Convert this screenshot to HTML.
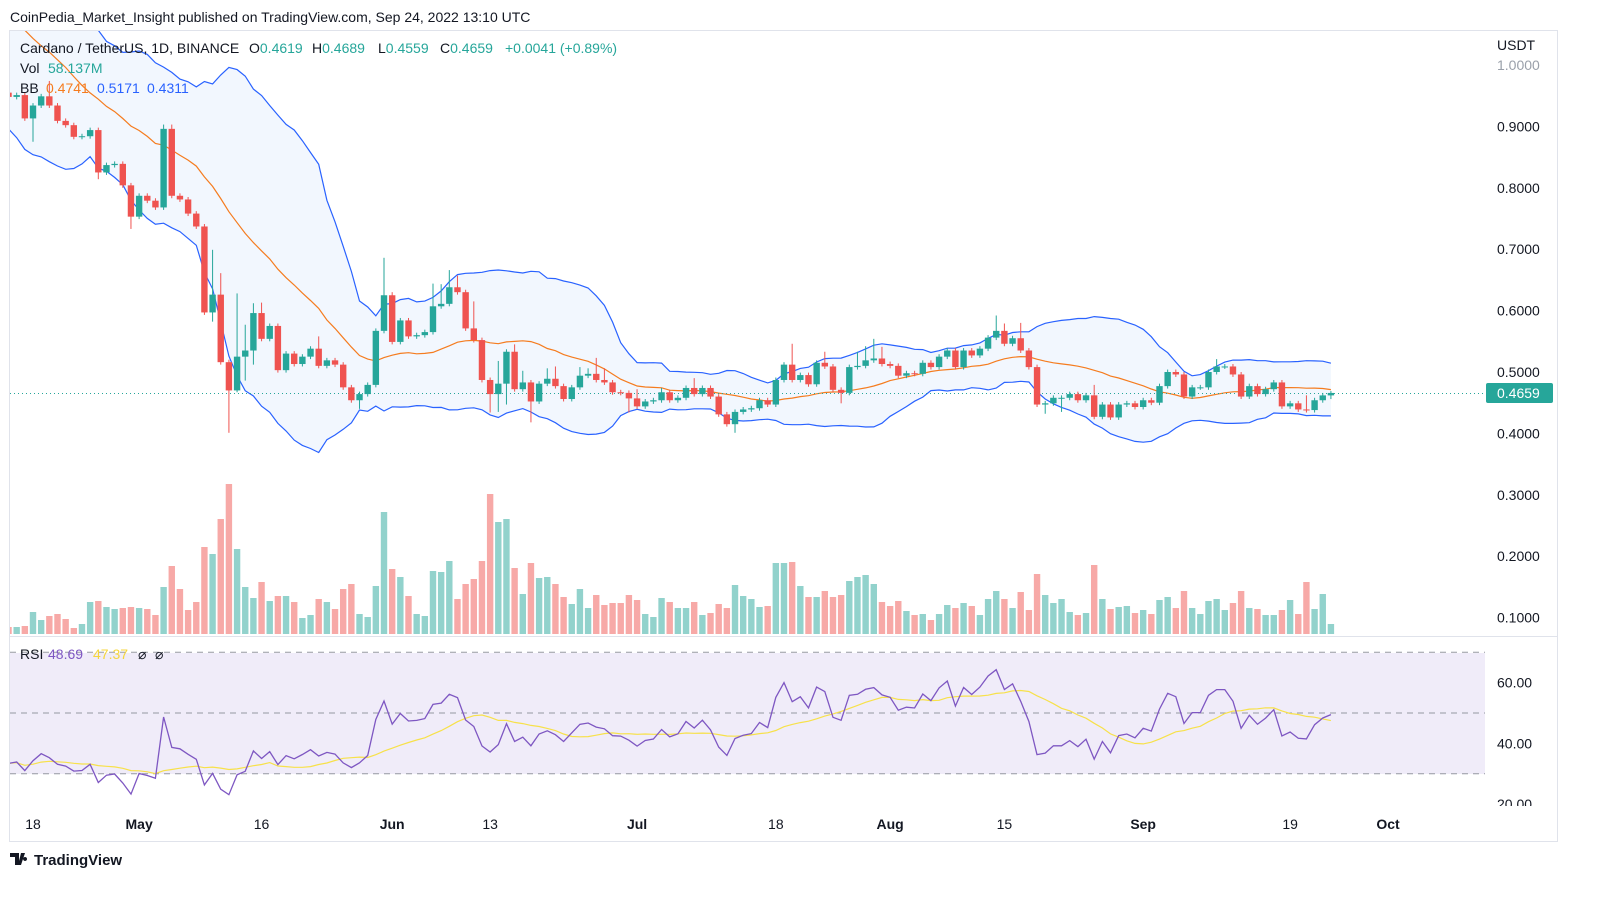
<!DOCTYPE html>
<html><head><meta charset="utf-8"><style>
body{margin:0;background:#fff;font-family:"Liberation Sans",sans-serif;}
svg text{font-family:"Liberation Sans",sans-serif;}
</style></head><body>
<svg id="chart" width="1600" height="895" viewBox="0 0 1600 895" xmlns="http://www.w3.org/2000/svg">
<defs>
<clipPath id="mainClip"><rect x="10" y="31" width="1475" height="604"/></clipPath>
<clipPath id="rsiClip"><rect x="10" y="638" width="1475" height="168"/></clipPath>
<clipPath id="axClip"><rect x="1486" y="638" width="110" height="168"/></clipPath>
</defs>
<text x="10" y="22" font-size="14" fill="#131722">CoinPedia_Market_Insight published on TradingView.com, Sep 24, 2022 13:10 UTC</text>
<rect x="9.5" y="30.5" width="1548" height="811" fill="none" stroke="#e0e3eb"/>
<line x1="9.5" y1="636.5" x2="1557" y2="636.5" stroke="#e0e3eb"/>
<rect x="10" y="653" width="1475" height="121" fill="#f0ecf9"/>
<g id="bbFill" clip-path="url(#mainClip)"></g>
<g id="volumes" clip-path="url(#mainClip)"></g>
<g id="bbLines" clip-path="url(#mainClip)"></g>
<line x1="10" y1="393.5" x2="1485" y2="393.5" stroke="#26a69a" stroke-dasharray="1,3"/>
<g id="candles" clip-path="url(#mainClip)"></g>
<g id="rsiGuides"></g>
<g id="rsiLines" clip-path="url(#rsiClip)"></g>
<g id="priceAxis"></g>
<g id="rsiAxis" clip-path="url(#axClip)"></g>
<g id="dateAxis"></g>
<text x="1497" y="50" font-size="14" fill="#131722">USDT</text>
<rect x="1486" y="383" width="67" height="20" rx="2" fill="#26a69a"/>
<text x="1497" y="398" font-size="14" fill="#fff">0.4659</text>
<g font-size="14">
<text y="53" fill="#131722"><tspan x="20">Cardano / TetherUS, 1D, BINANCE</tspan><tspan x="249">O</tspan><tspan fill="#26a69a">0.4619</tspan><tspan x="312">H</tspan><tspan fill="#26a69a">0.4689</tspan><tspan x="378">L</tspan><tspan fill="#26a69a">0.4559</tspan><tspan x="440">C</tspan><tspan fill="#26a69a">0.4659</tspan><tspan x="505" fill="#26a69a">+0.0041 (+0.89%)</tspan></text>
<text y="73" fill="#131722"><tspan x="20">Vol</tspan><tspan x="48" fill="#26a69a">58.137M</tspan></text>
<text y="93" fill="#131722"><tspan x="20">BB</tspan><tspan x="46" fill="#f57c1f">0.4741</tspan><tspan x="97" fill="#2962ff">0.5171</tspan><tspan x="147" fill="#2962ff">0.4311</tspan></text>
<text y="659" fill="#131722"><tspan x="20">RSI</tspan><tspan x="48" fill="#7e57c2">48.69</tspan><tspan x="93" fill="#f5d63d">47.37</tspan><tspan x="138">⌀</tspan><tspan x="155">⌀</tspan></text>
</g>
<g>
<path d="M10 853h9v12h-4v-8h-5z M21 853h4l-4 12h-3z M25 857a2 2 0 1 0 0.1 0z" fill="#131722"/>
<text x="34" y="865" font-size="15" font-weight="bold" fill="#131722">TradingView</text>
</g>
</svg>
<script>
const preCloses=[1.17,1.16,1.20,1.19,1.14,1.16,1.15,1.18,1.17,1.14,1.03,1.07,1.01,1.03,1.00,0.93,0.97,1.00,0.95];
const closes=[0.948,0.951,0.913,0.934,0.949,0.934,0.909,0.902,0.883,0.884,0.894,0.825,0.837,0.839,0.804,0.753,0.787,0.779,0.768,0.896,
0.787,0.781,0.758,0.737,0.597,0.626,0.516,0.470,0.525,0.535,0.596,0.554,0.575,0.503,0.530,0.513,0.525,0.538,0.510,0.519,
0.512,0.475,0.454,0.464,0.479,0.567,0.625,0.549,0.584,0.558,0.560,0.565,0.607,0.611,0.638,0.630,0.571,0.552,0.487,0.464,
0.481,0.533,0.472,0.483,0.452,0.481,0.489,0.477,0.456,0.475,0.494,0.497,0.487,0.483,0.467,0.466,0.457,0.444,0.452,0.454,
0.467,0.454,0.458,0.474,0.464,0.474,0.460,0.431,0.415,0.435,0.439,0.441,0.454,0.447,0.487,0.512,0.487,0.495,0.480,0.515,
0.509,0.471,0.466,0.508,0.510,0.519,0.522,0.513,0.510,0.494,0.498,0.497,0.515,0.508,0.525,0.535,0.508,0.535,0.527,0.538,
0.556,0.567,0.546,0.555,0.535,0.508,0.447,0.449,0.458,0.458,0.464,0.454,0.462,0.427,0.447,0.426,0.447,0.449,0.443,0.454,
0.450,0.477,0.500,0.496,0.460,0.475,0.475,0.500,0.509,0.509,0.496,0.460,0.477,0.464,0.472,0.483,0.444,0.449,0.439,0.438,
0.454,0.4619,0.4659];
const firstOpen=0.955;
const highIdx=[5,19,20,25,26,28,29,30,31,38,46,47,52,53,54,55,57,60,62,63,66,67,70,71,72,73,77,80,84,96,100,104,105,106,107,121,122,124,133,148,159,162];
const highVals=[0.974,0.903,0.903,0.699,0.661,0.628,0.577,0.612,0.613,0.558,0.686,0.630,0.644,0.643,0.666,0.657,0.615,0.518,0.545,0.502,0.506,0.509,0.508,0.506,0.523,0.506,0.472,0.474,0.490,0.546,0.533,0.533,0.542,0.554,0.541,0.592,0.579,0.580,0.479,0.521,0.462,0.4689];
const lowIdx=[3,11,15,25,27,28,29,30,43,59,60,61,64,76,89,102,127,129,162];
const lowVals=[0.875,0.814,0.733,0.582,0.401,0.467,0.486,0.512,0.440,0.434,0.435,0.447,0.418,0.434,0.401,0.449,0.432,0.435,0.4559];
const volumes=[7,7,8,22,14,18,20,15,6,10,32,33,27,25,26,27,26,25,19,47,68,45,24,32,87,80,115,150,
85,47,36,52,33,38,38,32,16,19,35,32,25,45,50,20,17,48,122,65,57,38,20,18,63,62,73,
35,50,55,73,140,112,115,66,40,71,56,57,50,37,30,45,26,39,29,31,31,39,34,20,17,36,
32,26,26,32,19,21,30,26,49,38,35,27,28,71,71,72,48,37,37,43,37,39,53,57,59,50,32,
28,33,23,19,20,14,20,29,26,31,28,19,35,43,35,26,42,24,60,39,31,35,22,19,21,69,
35,25,27,28,21,24,20,34,37,26,43,26,20,33,35,24,31,43,26,25,19,19,24,34,20,52,
25,40,10];
const priceTicks=[1.0,0.9,0.8,0.7,0.6,0.5,0.4,0.3,0.2,0.1];
const rsiTicks=[60,40,20];
const dateLabels=["18","May","16","Jun","13","Jul","18","Aug","15","Sep","19","Oct"];
const dateDays=[0,13,28,44,56,74,91,105,119,136,154,166];
const dateBold=[false,true,false,true,false,true,false,true,false,true,false,true];

const NS="http://www.w3.org/2000/svg";
const firstDay=-3;
const xDay=d=>33+d*8.163;
const xC=i=>xDay(i+firstDay);
const yP=p=>65+(1-p)*614;
const yR=r=>713-(r-50)*3.04;
const yV=v=>634-v;
function mk(tag,attrs,parent){const e=document.createElementNS(NS,tag);for(const k in attrs)e.setAttribute(k,attrs[k]);parent.appendChild(e);return e;}
const G=id=>document.getElementById(id);
const n=closes.length;
const opens=closes.map((c,i)=>i===0?firstOpen:closes[i-1]);

for(let i=0;i<n;i++){
  const up=closes[i]>=opens[i];
  const r=mk('rect',{x:xC(i)-3.2,y:yV(volumes[i]),width:6.4,height:volumes[i],fill:up?'#92d2cc':'#f7a9a7'},G('volumes'));
  
  
}
const all=preCloses.concat(closes);
const mid=[],up=[],lo=[];
for(let i=0;i<n;i++){
  const k=i+preCloses.length;const w=all.slice(k-19,k+1);
  const m=w.reduce((a,b)=>a+b,0)/20;const sd=Math.sqrt(w.reduce((a,b)=>a+(b-m)*(b-m),0)/20);
  mid.push(m);up.push(m+2*sd);lo.push(m-2*sd);
}
const pts=a=>a.map((v,i)=>xC(i).toFixed(1)+','+yP(v).toFixed(1));
const fill=mk('polygon',{points:pts(up).concat(pts(lo).reverse()).join(' '),fill:'#f2f7fe'},G('bbFill'));


const bu=mk('polyline',{points:pts(up).join(' '),fill:'none',stroke:'#2962ff','stroke-width':1.2},G('bbLines'));


const bl=mk('polyline',{points:pts(lo).join(' '),fill:'none',stroke:'#2962ff','stroke-width':1.2},G('bbLines'));


const bm=mk('polyline',{points:pts(mid).join(' '),fill:'none',stroke:'#f57c1f','stroke-width':1.2},G('bbLines'));



for(let i=0;i<n;i++){
  const o=opens[i],c=closes[i];const isUp=c>=o;const col=isUp?'#26a69a':'#ef5350';
  const hi=highIdx.indexOf(i)>=0?highVals[highIdx.indexOf(i)]:Math.max(o,c)+0.004;
  const lw=lowIdx.indexOf(i)>=0?lowVals[lowIdx.indexOf(i)]:Math.min(o,c)-0.004;
  const g=mk('g',{},G('candles'));
  
  
  mk('line',{x1:xC(i),x2:xC(i),y1:yP(hi),y2:yP(lw),stroke:col,'stroke-width':1},g);
  const t=yP(Math.max(o,c)),b=yP(Math.min(o,c));
  mk('rect',{x:xC(i)-3.2,y:t,width:6.4,height:Math.max(1,b-t),fill:col},g);
}
let ag=0,al=0;const rsi=[];
for(let k=1;k<all.length;k++){
  const d=all[k]-all[k-1];const g=Math.max(d,0),l=Math.max(-d,0);
  if(k<=14){ag+=g/14;al+=l/14;}else{ag=(ag*13+g)/14;al=(al*13+l)/14;}
  if(k>=preCloses.length) rsi.push(al===0?100:100-100/(1+ag/al));
}
const rsiMa=rsi.map((v,i)=>{const w=rsi.slice(Math.max(0,i-13),i+1);return w.reduce((a,b)=>a+b,0)/w.length;});
[70,50,30].forEach(v=>{
  const l=mk('line',{x1:10,x2:1485,y1:yR(v),y2:yR(v),stroke:'#9598a1','stroke-dasharray':'6,5','stroke-width':1},G('rsiGuides'));
  
  
});
const rp=a=>a.map((v,i)=>xC(i).toFixed(1)+','+yR(v).toFixed(1)).join(' ');
const rm=mk('polyline',{points:rp(rsiMa),fill:'none',stroke:'#f7e14a','stroke-width':1.2},G('rsiLines'));


const rl=mk('polyline',{points:rp(rsi),fill:'none',stroke:'#7e57c2','stroke-width':1.3},G('rsiLines'));


priceTicks.forEach(p=>{
  const t=mk('text',{x:1497,y:yP(p)+5,'font-size':14,fill:p===1.0?'#9aa0aa':'#131722'},G('priceAxis'));
  t.textContent=p.toFixed(4);
  
  
});
rsiTicks.forEach(r=>{
  const t=mk('text',{x:1497,y:yR(r)+5,'font-size':14,fill:'#131722'},G('rsiAxis'));
  t.textContent=r.toFixed(2);
  
  
});
dateLabels.forEach((s,i)=>{
  const t=mk('text',{x:xDay(dateDays[i]),y:829,'font-size':14,'text-anchor':'middle',fill:'#131722','font-weight':dateBold[i]?'bold':'normal'},G('dateAxis'));
  t.textContent=s;
  
  
});
</script>
</body></html>
